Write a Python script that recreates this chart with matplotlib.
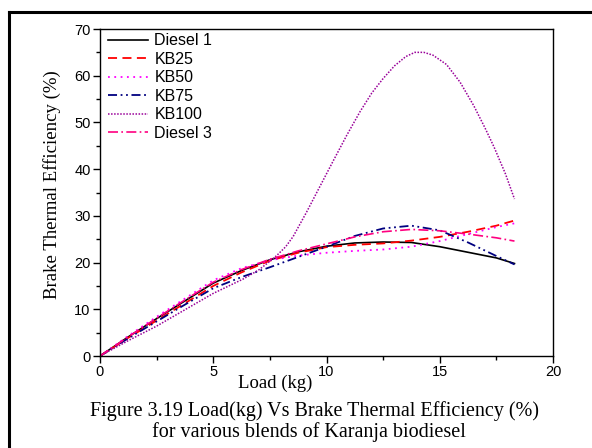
import matplotlib
matplotlib.use("Agg")
import matplotlib.pyplot as plt
from matplotlib.lines import Line2D

# ---- data ----
load = [0, 1.25, 2.5, 3.75, 5, 6.25, 7.5, 8.75, 10, 11.25, 12.5, 13.75, 15, 16.25, 17.5, 18.3]
diesel1 = [0, 4.1, 8.0, 11.8, 15.6, 18.3, 20.6, 22.3, 23.5, 24.2, 24.4, 24.3, 23.4, 22.2, 21.0, 19.8]
kb25 = [0, 3.9, 7.6, 11.3, 15.0, 17.9, 20.4, 22.1, 23.3, 23.8, 24.1, 24.7, 25.5, 26.6, 27.9, 29.0]
kb50 = [0, 4.3, 8.4, 12.3, 16.2, 18.8, 20.5, 21.5, 22.1, 22.5, 22.8, 23.4, 24.6, 26.1, 27.6, 28.4]
kb75 = [0, 3.8, 7.4, 11.0, 14.5, 16.9, 19.0, 21.2, 23.4, 25.7, 27.3, 27.9, 26.9, 24.3, 21.4, 19.6]
diesel3 = [0, 4.1, 8.1, 12.0, 15.8, 18.5, 20.7, 22.5, 24.0, 25.5, 26.6, 27.1, 26.8, 26.1, 25.3, 24.6]

load_kb100 = [0, 1.25, 2.5, 3.75, 5, 6.33, 7.0, 7.43, 7.8, 8.2, 8.53, 9.12, 9.57, 10.3, 10.9,
              11.48, 12.0, 12.5, 13.0, 13.5, 13.9, 14.3, 14.7, 15.3, 15.9, 16.5, 17.0, 17.4,
              17.9, 18.3]
kb100 = [0, 3.3, 6.4, 9.9, 13.4, 16.5, 18.4, 20.0, 21.5, 23.4, 25.6, 30.8, 35.0, 41.8, 47.3,
         52.3, 56.3, 59.4, 62.1, 64.1, 65.0, 65.0, 64.4, 62.4, 58.6, 53.6, 48.8, 44.7,
         39.0, 33.6]

labels = ["Diesel 1", "KB25", "KB50", "KB75", "KB100", "Diesel 3"]
xticks = [0, 5, 10, 15, 20]
yticks = [0, 10, 20, 30, 40, 50, 60, 70]

W, H = 592, 448
fig = plt.figure(figsize=(W / 100, H / 100), dpi=100)
ax = fig.add_axes([100 / W, 1 - 356 / H, 453 / W, 327 / H])

ax.plot(load, diesel1, color="black", lw=1.2, ls="-", label=labels[0])
ax.plot(load, kb25, color="#ff0000", lw=1.3, ls=(0, (5, 3)), label=labels[1])
ax.plot(load, kb50, color="#ff00ff", lw=1.3, ls=(0, (1, 2.5)), label=labels[2])
ax.plot(load, kb75, color="#000080", lw=1.3, ls=(0, (5, 2, 1, 2, 1, 2)), label=labels[3])
ax.plot(load_kb100, kb100, color="#990099", lw=1.1, ls=(0, (1, 1)), label=labels[4])
ax.plot(load, diesel3, color="#ff0080", lw=1.2, ls=(0, (6, 2, 1, 2)), label=labels[5])

ax.set_xlim(0, 20)
ax.set_ylim(0, 70)
ax.set_xticks(xticks)
ax.set_yticks(yticks)
ax.set_xticks([2.5, 7.5, 12.5, 17.5], minor=True)
ax.set_yticks([5, 15, 25, 35, 45, 55, 65], minor=True)
ax.tick_params(which="major", direction="out", length=4.8, width=1, labelsize=10.5,
               pad=2, colors="black")
ax.tick_params(which="minor", direction="out", length=3, width=1)
for lab in ax.get_xticklabels() + ax.get_yticklabels():
    lab.set_family("Liberation Sans")
for sp in ax.spines.values():
    sp.set_linewidth(1.0)
    sp.set_color("black")

leg = ax.legend(loc="upper left", bbox_to_anchor=(0.018, 0.987), frameon=False,
                prop={"family": "Liberation Sans", "size": 11.5},
                handlelength=2.5, handletextpad=0.4, labelspacing=0.22,
                borderpad=0, borderaxespad=0)

serif = "Liberation Serif"
fig.text(52 / W, 1 - 185 / H, "Brake Thermal Efficiency (%)", rotation=90,
         ha="center", va="center", family=serif, fontsize=13.5)
fig.text(275 / W, 1 - 383 / H, "Load (kg)", ha="center", va="center",
         family=serif, fontsize=13.5)
fig.text(315 / W, 1 - 411 / H, "Figure 3.19 Load(kg) Vs Brake Thermal Efficiency (%)",
         ha="center", va="center", family=serif, fontsize=14.5)
fig.text(309 / W, 1 - 432 / H, "for various blends of Karanja biodiesel",
         ha="center", va="center", family=serif, fontsize=14.5)

# outer frame lines (top and left)
fig.add_artist(Line2D([9 / W, 1.0], [1 - 12 / H, 1 - 12 / H], color="black", lw=2.2,
                      transform=fig.transFigure))
fig.add_artist(Line2D([9 / W, 9 / W], [0, 1 - 12 / H], color="black", lw=2.2,
                      transform=fig.transFigure))

fig.savefig("out.png", dpi=100)
